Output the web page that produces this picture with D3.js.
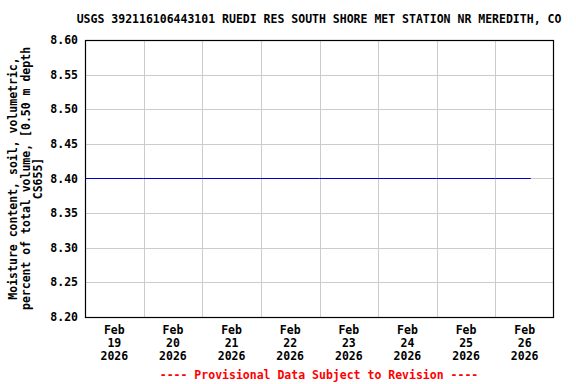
<!DOCTYPE html>
<html><head><meta charset="utf-8">
<script src="https://cdn.jsdelivr.net/npm/d3@7"></script>
<style>body{margin:0;background:#fff}svg{display:block}text{font-family:"DejaVu Sans Mono",monospace;font-weight:bold;font-size:11.5px}</style>
</head><body><svg id="c" width="576" height="384"></svg>
<script>
const title = "USGS 392116106443101 RUEDI RES SOUTH SHORE MET STATION NR MEREDITH, CO";
const yTitleLines = ["Moisture content, soil, volumetric,", "percent of total volume, [0.50 m depth", "CS655]"];
const footer = "---- Provisional Data Subject to Revision ----";
const times = ["2026-02-19T00:00","2026-02-20T00:00","2026-02-21T00:00","2026-02-22T00:00","2026-02-23T00:00","2026-02-24T00:00","2026-02-25T00:00","2026-02-26T00:00","2026-02-26T14:30"];
const values = [8.40,8.40,8.40,8.40,8.40,8.40,8.40,8.40,8.40];
const yTicks = [8.20,8.25,8.30,8.35,8.40,8.45,8.50,8.55,8.60];
const xDays = ["2026-02-19","2026-02-20","2026-02-21","2026-02-22","2026-02-23","2026-02-24","2026-02-25","2026-02-26","2026-02-27"];
const xLabelDays = ["19","20","21","22","23","24","25","26"];

const svg = d3.select("#c");
const L=85, R=554, T=40, B=317;
const parse = d3.isoParse;
const x = d3.scaleTime().domain([parse(xDays[0]+"T00:00"), parse(xDays[xDays.length-1]+"T00:00")]).range([L,R]);
const y = d3.scaleLinear().domain([8.20,8.60]).range([B,T]);

// grid
svg.append("g").selectAll("line").data(yTicks.slice(1,-1)).join("line")
  .attr("x1",L).attr("x2",R).attr("y1",d=>Math.round(y(d))+0.5).attr("y2",d=>Math.round(y(d))+0.5)
  .attr("stroke","#cccccc");
svg.append("g").selectAll("line").data(xDays.slice(1,-1)).join("line")
  .attr("y1",T).attr("y2",B).attr("x1",d=>Math.round(x(parse(d+"T00:00")))+0.5).attr("x2",d=>Math.round(x(parse(d+"T00:00")))+0.5)
  .attr("stroke","#cccccc");

// data line
const line = d3.line().x((d,i)=>x(parse(times[i]))).y(d=>Math.round(y(d))+0.5);
svg.append("path").datum(values).attr("d",line).attr("fill","none").attr("stroke","#0000cc").attr("stroke-width",1);

// border
svg.append("rect").attr("x",L+0.5).attr("y",T+0.5).attr("width",R-L-1).attr("height",B-T)
  .attr("fill","none").attr("stroke","#000").attr("stroke-width",1.2);

// y tick labels
svg.append("g").selectAll("text").data(yTicks).join("text")
  .attr("x",78).attr("y",d=>y(d)+4).attr("text-anchor","end").text(d=>d.toFixed(2));

// x tick labels at noon
const xl = svg.append("g").selectAll("text").data(xLabelDays).join("text")
  .attr("text-anchor","middle")
  .attr("transform",(d,i)=>`translate(${x(parse(xDays[i]+"T12:00"))},0)`);
xl.append("tspan").attr("x",0).attr("y",334).text("Feb");
xl.append("tspan").attr("x",0).attr("y",347).text(d=>d);
xl.append("tspan").attr("x",0).attr("y",360).text("2026");

// title
svg.append("text").attr("x",319).attr("y",23).attr("text-anchor","middle").text(title);

// y title
const yc = (T+B)/2;
svg.append("g").selectAll("text").data(yTitleLines).join("text")
  .attr("text-anchor","middle")
  .attr("transform",(d,i)=>`translate(${17+i*12.5},${yc}) rotate(-90)`).text(d=>d);

// footer
svg.append("text").attr("x",319).attr("y",379).attr("text-anchor","middle").attr("fill","#ff0000").text(footer);
</script></body></html>
